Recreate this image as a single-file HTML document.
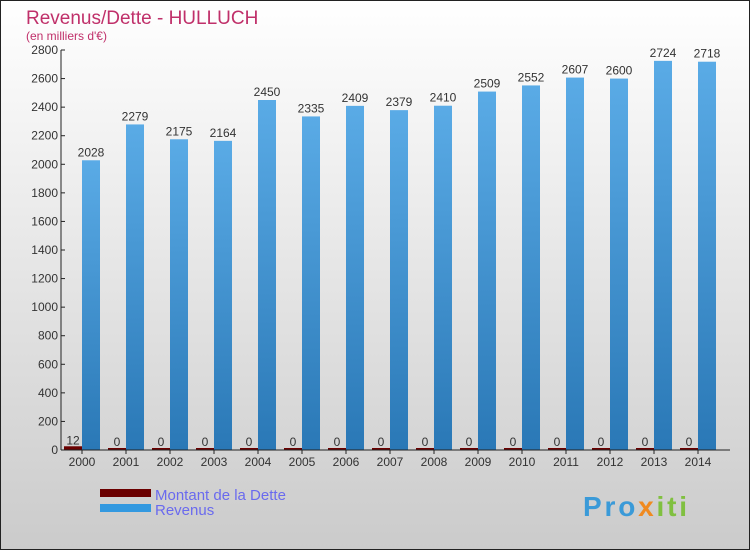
<!DOCTYPE html>
<html><head><meta charset="utf-8"><style>
body{margin:0;width:750px;height:550px;overflow:hidden;font-family:"Liberation Sans",sans-serif}
</style></head><body>
<svg width="750" height="550" xmlns="http://www.w3.org/2000/svg">
<defs>
<linearGradient id="bg" x1="0" y1="0" x2="0" y2="1"><stop offset="0" stop-color="#ffffff"/><stop offset="1" stop-color="#cbcbcb"/></linearGradient>
<linearGradient id="rev" x1="0" y1="0" x2="0" y2="1"><stop offset="0" stop-color="#5aabe6"/><stop offset="1" stop-color="#2a78b6"/></linearGradient>
</defs>
<rect x="0.5" y="0.5" width="749" height="549" fill="url(#bg)" stroke="#222"/>
<text x="26" y="24" font-size="19" fill="#c0306a">Revenus/Dette - HULLUCH</text>
<text x="26" y="40" font-size="12" fill="#c0306a">(en milliers d'€)</text>
<g id="plot"></g>
<g>
<rect x="100" y="489" width="51" height="8" fill="#6b0000"/>
<text x="155" y="500" font-size="15" fill="#6a6aee">Montant de la Dette</text>
<rect x="100" y="504" width="51" height="8" fill="#3399e0"/>
<text x="155" y="515" font-size="15" fill="#6a6aee">Revenus</text>
</g>
<text x="583" y="516" font-size="28" font-weight="bold" fill="#3a9ad8" textLength="104">Pro<tspan fill="#f08a20">x</tspan><tspan fill="#80c040">iti</tspan></text>
</svg>
<script>
const years=["2000","2001","2002","2003","2004","2005","2006","2007","2008","2009","2010","2011","2012","2013","2014"];
const dette=[12,0,0,0,0,0,0,0,0,0,0,0,0,0,0];
const revenus=[2028,2279,2175,2164,2450,2335,2409,2379,2410,2509,2552,2607,2600,2724,2718];
const yTicks=[0,200,400,600,800,1000,1200,1400,1600,1800,2000,2200,2400,2600,2800];
const NS="http://www.w3.org/2000/svg";
const g=document.getElementById('plot');
const y0=450,yTop=50,yMax=2800,x0=61;
function Y(v){return y0-(v/yMax)*(y0-yTop);}
function X(i){return 82+i*44;}
function mk(t,a,txt){const e=document.createElementNS(NS,t);for(const k in a)e.setAttribute(k,a[k]);if(txt!==undefined)e.textContent=txt;g.appendChild(e);return e;}
yTicks.forEach(v=>{
 const l=mk('line',{x1:x0,x2:x0+4,y1:Y(v),y2:Y(v),stroke:'#222'});
 
 
 const t=mk('text',{x:x0-3,y:Y(v)+4,'font-size':12,'text-anchor':'end',fill:'#333'},v);
 
 
});
years.forEach((yr,i)=>{
 const cx=X(i);
 const d=mk('rect',{x:cx-18,y:Y(dette[i])-2,width:18,height:Math.max(2,y0-Y(dette[i])+2),fill:'#6b0000'});
 
 
 const r=mk('rect',{x:cx,y:Y(revenus[i]),width:18,height:y0-Y(revenus[i]),fill:'url(#rev)'});
 
 
 const tl=mk('text',{x:cx-9,y:Y(dette[i])-4,'font-size':12,'text-anchor':'middle',fill:'#333'},dette[i]);
 
 
 const tr=mk('text',{x:cx+9,y:Y(revenus[i])-4,'font-size':12,'text-anchor':'middle',fill:'#333'},revenus[i]);
 
 
 const tk=mk('line',{x1:cx,x2:cx,y1:y0,y2:y0+4,stroke:'#222'});
 
 
 const xl=mk('text',{x:cx,y:y0+16,'font-size':12,'text-anchor':'middle',fill:'#333'},yr);
 
 
});
const ya=mk('line',{x1:x0,x2:x0,y1:yTop,y2:y0,stroke:'#222'});


const xa=mk('line',{x1:x0,x2:730,y1:y0,y2:y0,stroke:'#222'});


</script>
</body></html>
